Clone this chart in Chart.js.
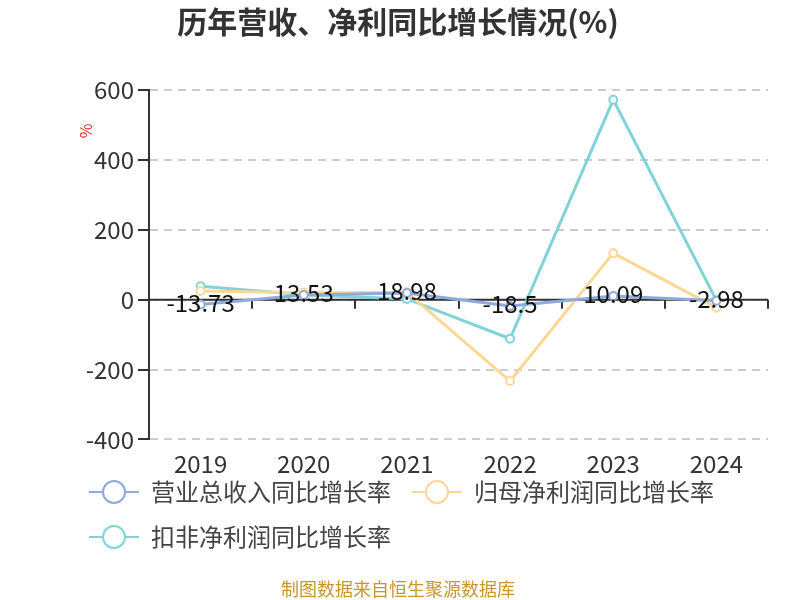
<!DOCTYPE html>
<html>
<head>
<meta charset="utf-8">
<script src="https://cdn.jsdelivr.net/npm/chart.js@4/dist/chart.umd.min.js"></script>
<style>
  html, body { margin: 0; padding: 0; background: #fff; }
  #wrap { width: 800px; height: 600px; }
</style>
</head>
<body>
<div id="wrap"><canvas id="myChart" width="800" height="600"></canvas></div>
<script>
// Chart data
const years = ['2019', '2020', '2021', '2022', '2023', '2024'];
const revenueGrowth = [-13.73, 13.53, 18.98, -18.5, 10.09, -2.98];
const netProfitGrowth = [25, 20, 21, -233, 133, -23];
const deductedProfitGrowth = [38, 14, 2, -112, 572, -2];
const yTicks = [-400, -200, 0, 200, 400, 600];

const FONT = '"Noto Sans CJK SC", "Noto Sans", sans-serif';
const seriesColors = ['#8eaadc', '#fdd795', '#80d3d6'];

// draws data labels for the first series, centred on the points
const labelPlugin = {
  id: 'pointLabels',
  afterDatasetsDraw(chart) {
    const ctx = chart.ctx;
    const meta = chart.getDatasetMeta(0);
    ctx.save();
    ctx.font = '24px ' + FONT;
    ctx.fillStyle = '#111';
    ctx.textAlign = 'center';
    ctx.textBaseline = 'middle';
    meta.data.forEach((pt, i) => {
      ctx.fillText(String(revenueGrowth[i]), pt.x, pt.y - 2);
    });
    ctx.restore();
  }
};

// zero axis line with category ticks, unit mark and legend symbols
const decorPlugin = {
  id: 'decor',
  afterLayout(chart) {
    // keep title and footer centred on the whole canvas
    chart.boxes.forEach(b => {
      if (b.options && typeof b.options.text === 'string' && b.options.text.length) {
        b.left = 0;
        b.right = 796;
      }
    });
    // pull the legend up closer to the axis labels
    const lg = chart.legend;
    lg.top = 459;
    lg.bottom = 459 + lg.height;
  },
  beforeDatasetsDraw(chart) {
    const ctx = chart.ctx;
    const x = chart.scales.x;
    const y = chart.scales.y;
    const y0 = y.getPixelForValue(0);
    const half = (x.getPixelForValue(1) - x.getPixelForValue(0)) / 2;
    ctx.save();
    ctx.strokeStyle = '#333';
    ctx.lineWidth = 2;
    ctx.beginPath();
    ctx.moveTo(x.left, y0);
    ctx.lineTo(x.right, y0);
    for (let i = 0; i < years.length; i++) {
      const px = Math.round(x.getPixelForValue(i) + half);
      ctx.moveTo(px, y0);
      ctx.lineTo(px, y0 + 9);
    }
    ctx.stroke();
    ctx.restore();
  },
  afterDraw(chart) {
    const ctx = chart.ctx;
    ctx.save();
    // unit
    ctx.translate(86, 131);
    ctx.rotate(-Math.PI / 2);
    ctx.font = '16px ' + FONT;
    ctx.fillStyle = '#e8262a';
    ctx.textAlign = 'center';
    ctx.textBaseline = 'middle';
    ctx.fillText('%', 0, 0);
    ctx.restore();

    // legend symbols
    const legend = chart.legend;
    legend.legendHitBoxes.forEach((box, i) => {
      const cy = box.top + box.height / 2;
      ctx.save();
      ctx.strokeStyle = seriesColors[i];
      ctx.lineWidth = 2;
      ctx.beginPath();
      ctx.moveTo(box.left, cy);
      ctx.lineTo(box.left + 50, cy);
      ctx.stroke();
      ctx.beginPath();
      ctx.arc(box.left + 25, cy, 11, 0, Math.PI * 2);
      ctx.fillStyle = '#fff';
      ctx.fill();
      ctx.stroke();
      ctx.restore();
    });
  }
};

const makeSet = (label, data, color) => ({
  label: label,
  data: data,
  borderColor: color,
  backgroundColor: '#fff',
  borderWidth: 3,
  pointRadius: 4,
  pointBorderWidth: 2,
  pointBackgroundColor: '#fff',
  pointBorderColor: color,
  pointHoverRadius: 4,
  tension: 0,
});

new Chart(document.getElementById('myChart'), {
  type: 'line',
  data: {
    labels: years,
    datasets: [
      makeSet('营业总收入同比增长率', revenueGrowth, seriesColors[0]),
      makeSet('归母净利润同比增长率', netProfitGrowth, seriesColors[1]),
      makeSet('扣非净利润同比增长率', deductedProfitGrowth, seriesColors[2]),
    ],
  },
  options: {
    responsive: false,
    animation: false,
    events: [],
    layout: { padding: { left: 68, right: 32, top: 0, bottom: 0 } },
    plugins: {
      title: {
        display: true,
        text: '历年营收、净利同比增长情况(%)',
        color: '#333',
        font: { family: FONT, size: 30, weight: 'bold' },
        padding: { top: 4, bottom: 50 },
      },
      subtitle: {
        display: true,
        position: 'bottom',
        text: '制图数据来自恒生聚源数据库',
        color: '#c8962a',
        font: { family: FONT, size: 18 },
        padding: { top: 0, bottom: 0 },
      },
      legend: {
        position: 'bottom',
        align: 'start',
        labels: {
          boxWidth: 50,
          boxHeight: 24,
          padding: 21,
          color: '#444',
          font: { family: FONT, size: 24 },
          generateLabels(chart) {
            return chart.data.datasets.map((ds, i) => ({
              text: ds.label,
              fillStyle: 'rgba(0,0,0,0)',
              strokeStyle: 'rgba(0,0,0,0)',
              lineWidth: 0,
              fontColor: '#444',
              datasetIndex: i,
            }));
          },
        },
      },
      tooltip: { enabled: false },
    },
    scales: {
      x: {
        offset: true,
        grid: { display: false, drawTicks: false },
        border: { display: false },
        afterFit(scale) { scale.height = 39; },
        ticks: {
          color: '#333',
          font: { family: FONT, size: 24 },
          padding: 10,
        },
      },
      y: {
        min: -400,
        max: 600,
        afterBuildTicks(scale) {
          scale.ticks = yTicks.map(v => ({ value: v }));
        },
        afterFit(scale) { scale.width = 81; },
        grid: {
          color: '#cccccc',
          lineWidth: 2,
          tickColor: '#333',
          tickLength: 11,
          tickWidth: 2,
          tickBorderDash: [],
        },
        border: { display: true, color: '#333', width: 2, dash: [8, 6] },
        ticks: {
          color: '#333',
          font: { family: FONT, size: 24 },
          padding: 4,
        },
      },
    },
  },
  plugins: [decorPlugin, labelPlugin],
});
</script>
</body>
</html>
